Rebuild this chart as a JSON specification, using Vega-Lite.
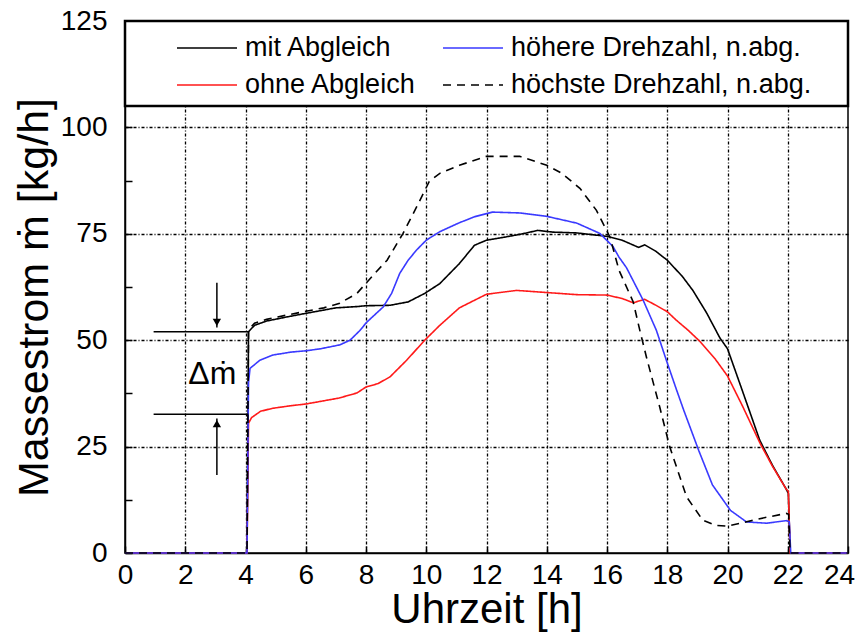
{
  "$schema": "https://vega.github.io/schema/vega-lite/v6.json",
  "width": 723,
  "height": 532,
  "autosize": "none",
  "padding": {"left": 125, "top": 21, "right": 8, "bottom": 83},
  "background": "white",
  "config": {
    "font": "Liberation Sans",
    "view": {"stroke": "black", "strokeWidth": 1.5},
    "axis": {
      "domainColor": "black",
      "domainWidth": 1.5,
      "tickColor": "black",
      "tickWidth": 1.5,
      "labelColor": "black",
      "labelFont": "Liberation Sans",
      "labelFontSize": 28,
      "titleFont": "Liberation Sans",
      "titleFontSize": 42,
      "titleFontWeight": "normal",
      "titleColor": "black",
      "gridColor": "black",
      "gridWidth": 1.3,
      "gridDash": [3, 2, 1, 2]
    }
  },
  "layer": [
    {
      "data": {"name": "series", "values": [
        {"s": "mit Abgleich", "t": 0, "m": 0},
        {"s": "mit Abgleich", "t": 4.05, "m": 0},
        {"s": "mit Abgleich", "t": 4.1, "m": 52},
        {"s": "mit Abgleich", "t": 4.3, "m": 53.5},
        {"s": "mit Abgleich", "t": 4.7, "m": 54.5},
        {"s": "mit Abgleich", "t": 5.4, "m": 55.5},
        {"s": "mit Abgleich", "t": 6, "m": 56.3},
        {"s": "mit Abgleich", "t": 7, "m": 57.6},
        {"s": "mit Abgleich", "t": 7.7, "m": 57.9},
        {"s": "mit Abgleich", "t": 8, "m": 58.1},
        {"s": "mit Abgleich", "t": 8.8, "m": 58.2},
        {"s": "mit Abgleich", "t": 9.4, "m": 59},
        {"s": "mit Abgleich", "t": 9.95, "m": 61},
        {"s": "mit Abgleich", "t": 10.45, "m": 63.3},
        {"s": "mit Abgleich", "t": 11.1, "m": 68},
        {"s": "mit Abgleich", "t": 11.6, "m": 72.3},
        {"s": "mit Abgleich", "t": 12, "m": 73.5},
        {"s": "mit Abgleich", "t": 12.67, "m": 74.3},
        {"s": "mit Abgleich", "t": 13.2, "m": 75},
        {"s": "mit Abgleich", "t": 13.7, "m": 75.8},
        {"s": "mit Abgleich", "t": 14.2, "m": 75.4},
        {"s": "mit Abgleich", "t": 15, "m": 75.2},
        {"s": "mit Abgleich", "t": 16, "m": 74.4},
        {"s": "mit Abgleich", "t": 16.5, "m": 73.5},
        {"s": "mit Abgleich", "t": 17.05, "m": 71.8},
        {"s": "mit Abgleich", "t": 17.25, "m": 72.4},
        {"s": "mit Abgleich", "t": 17.6, "m": 71},
        {"s": "mit Abgleich", "t": 18, "m": 68.8},
        {"s": "mit Abgleich", "t": 18.5, "m": 65},
        {"s": "mit Abgleich", "t": 18.85, "m": 61.7},
        {"s": "mit Abgleich", "t": 19.3, "m": 56.5},
        {"s": "mit Abgleich", "t": 19.75, "m": 50.5},
        {"s": "mit Abgleich", "t": 20, "m": 48},
        {"s": "mit Abgleich", "t": 20.5, "m": 38},
        {"s": "mit Abgleich", "t": 21.07, "m": 26.5},
        {"s": "mit Abgleich", "t": 21.5, "m": 20.5},
        {"s": "mit Abgleich", "t": 21.95, "m": 15},
        {"s": "mit Abgleich", "t": 22.02, "m": 14},
        {"s": "mit Abgleich", "t": 22.08, "m": 0},
        {"s": "mit Abgleich", "t": 24, "m": 0},
        {"s": "ohne Abgleich", "t": 0, "m": 0},
        {"s": "ohne Abgleich", "t": 4.05, "m": 0},
        {"s": "ohne Abgleich", "t": 4.1, "m": 30.5},
        {"s": "ohne Abgleich", "t": 4.2, "m": 31.8},
        {"s": "ohne Abgleich", "t": 4.5, "m": 33.3},
        {"s": "ohne Abgleich", "t": 4.9, "m": 34},
        {"s": "ohne Abgleich", "t": 5.5, "m": 34.6},
        {"s": "ohne Abgleich", "t": 6, "m": 35},
        {"s": "ohne Abgleich", "t": 7.1, "m": 36.4},
        {"s": "ohne Abgleich", "t": 7.7, "m": 37.6},
        {"s": "ohne Abgleich", "t": 8, "m": 39},
        {"s": "ohne Abgleich", "t": 8.4, "m": 39.8},
        {"s": "ohne Abgleich", "t": 8.8, "m": 41.4},
        {"s": "ohne Abgleich", "t": 9.35, "m": 45.3},
        {"s": "ohne Abgleich", "t": 9.95, "m": 50},
        {"s": "ohne Abgleich", "t": 10.45, "m": 53.5},
        {"s": "ohne Abgleich", "t": 11.1, "m": 57.6},
        {"s": "ohne Abgleich", "t": 12, "m": 60.8},
        {"s": "ohne Abgleich", "t": 13, "m": 61.7},
        {"s": "ohne Abgleich", "t": 14, "m": 61.2},
        {"s": "ohne Abgleich", "t": 15, "m": 60.7},
        {"s": "ohne Abgleich", "t": 16, "m": 60.6},
        {"s": "ohne Abgleich", "t": 16.5, "m": 59.8},
        {"s": "ohne Abgleich", "t": 16.87, "m": 58.8},
        {"s": "ohne Abgleich", "t": 17.25, "m": 59.6},
        {"s": "ohne Abgleich", "t": 17.6, "m": 58.3},
        {"s": "ohne Abgleich", "t": 18, "m": 56.7},
        {"s": "ohne Abgleich", "t": 18.3, "m": 54.7},
        {"s": "ohne Abgleich", "t": 18.7, "m": 52.3},
        {"s": "ohne Abgleich", "t": 19.1, "m": 49.6},
        {"s": "ohne Abgleich", "t": 19.6, "m": 45.5},
        {"s": "ohne Abgleich", "t": 20, "m": 41.6},
        {"s": "ohne Abgleich", "t": 20.5, "m": 34.5},
        {"s": "ohne Abgleich", "t": 21.1, "m": 25.5},
        {"s": "ohne Abgleich", "t": 21.5, "m": 20.3},
        {"s": "ohne Abgleich", "t": 21.95, "m": 15},
        {"s": "ohne Abgleich", "t": 22.02, "m": 14.5},
        {"s": "ohne Abgleich", "t": 22.08, "m": 0},
        {"s": "ohne Abgleich", "t": 24, "m": 0},
        {"s": "höhere Drehzahl, n.abg.", "t": 0, "m": 0},
        {"s": "höhere Drehzahl, n.abg.", "t": 4.05, "m": 0},
        {"s": "höhere Drehzahl, n.abg.", "t": 4.1, "m": 40},
        {"s": "höhere Drehzahl, n.abg.", "t": 4.15, "m": 43.4},
        {"s": "höhere Drehzahl, n.abg.", "t": 4.48, "m": 45.3},
        {"s": "höhere Drehzahl, n.abg.", "t": 4.9, "m": 46.5},
        {"s": "höhere Drehzahl, n.abg.", "t": 5.5, "m": 47.2},
        {"s": "höhere Drehzahl, n.abg.", "t": 6, "m": 47.5},
        {"s": "höhere Drehzahl, n.abg.", "t": 6.5, "m": 48},
        {"s": "höhere Drehzahl, n.abg.", "t": 7.13, "m": 48.9},
        {"s": "höhere Drehzahl, n.abg.", "t": 7.47, "m": 50},
        {"s": "höhere Drehzahl, n.abg.", "t": 7.8, "m": 52.3},
        {"s": "höhere Drehzahl, n.abg.", "t": 8.02, "m": 54.2},
        {"s": "höhere Drehzahl, n.abg.", "t": 8.57, "m": 57.8},
        {"s": "höhere Drehzahl, n.abg.", "t": 8.85, "m": 61},
        {"s": "höhere Drehzahl, n.abg.", "t": 9.12, "m": 65.7},
        {"s": "höhere Drehzahl, n.abg.", "t": 9.4, "m": 68.8},
        {"s": "höhere Drehzahl, n.abg.", "t": 9.68, "m": 71.2},
        {"s": "höhere Drehzahl, n.abg.", "t": 10, "m": 73.5},
        {"s": "höhere Drehzahl, n.abg.", "t": 10.45, "m": 75.5},
        {"s": "höhere Drehzahl, n.abg.", "t": 11.1, "m": 77.6},
        {"s": "höhere Drehzahl, n.abg.", "t": 11.6, "m": 79},
        {"s": "höhere Drehzahl, n.abg.", "t": 12.2, "m": 80.1},
        {"s": "höhere Drehzahl, n.abg.", "t": 13.1, "m": 79.9},
        {"s": "höhere Drehzahl, n.abg.", "t": 14, "m": 79.1},
        {"s": "höhere Drehzahl, n.abg.", "t": 15, "m": 77.5},
        {"s": "höhere Drehzahl, n.abg.", "t": 15.76, "m": 75.1},
        {"s": "höhere Drehzahl, n.abg.", "t": 16.2, "m": 72},
        {"s": "höhere Drehzahl, n.abg.", "t": 16.4, "m": 69.5},
        {"s": "höhere Drehzahl, n.abg.", "t": 16.65, "m": 67},
        {"s": "höhere Drehzahl, n.abg.", "t": 17.2, "m": 59.4},
        {"s": "höhere Drehzahl, n.abg.", "t": 17.64, "m": 52.3},
        {"s": "höhere Drehzahl, n.abg.", "t": 17.97, "m": 45.3},
        {"s": "höhere Drehzahl, n.abg.", "t": 18.3, "m": 38.5},
        {"s": "höhere Drehzahl, n.abg.", "t": 18.55, "m": 33.5},
        {"s": "höhere Drehzahl, n.abg.", "t": 19.05, "m": 24},
        {"s": "höhere Drehzahl, n.abg.", "t": 19.5, "m": 16},
        {"s": "höhere Drehzahl, n.abg.", "t": 20.1, "m": 10},
        {"s": "höhere Drehzahl, n.abg.", "t": 20.63, "m": 7.3},
        {"s": "höhere Drehzahl, n.abg.", "t": 21.29, "m": 7},
        {"s": "höhere Drehzahl, n.abg.", "t": 21.95, "m": 7.6},
        {"s": "höhere Drehzahl, n.abg.", "t": 22.05, "m": 7.4},
        {"s": "höhere Drehzahl, n.abg.", "t": 22.1, "m": 0},
        {"s": "höhere Drehzahl, n.abg.", "t": 24, "m": 0},
        {"s": "höchste Drehzahl, n.abg.", "t": 0, "m": 0},
        {"s": "höchste Drehzahl, n.abg.", "t": 4.05, "m": 0},
        {"s": "höchste Drehzahl, n.abg.", "t": 4.1, "m": 52.5},
        {"s": "höchste Drehzahl, n.abg.", "t": 4.3, "m": 54},
        {"s": "höchste Drehzahl, n.abg.", "t": 4.7, "m": 54.9},
        {"s": "höchste Drehzahl, n.abg.", "t": 5.37, "m": 55.9},
        {"s": "höchste Drehzahl, n.abg.", "t": 6, "m": 56.8},
        {"s": "höchste Drehzahl, n.abg.", "t": 6.6, "m": 57.6},
        {"s": "höchste Drehzahl, n.abg.", "t": 7.13, "m": 58.7},
        {"s": "höchste Drehzahl, n.abg.", "t": 7.7, "m": 61},
        {"s": "höchste Drehzahl, n.abg.", "t": 8.24, "m": 65.3},
        {"s": "höchste Drehzahl, n.abg.", "t": 8.7, "m": 68.8},
        {"s": "höchste Drehzahl, n.abg.", "t": 9.23, "m": 75.1},
        {"s": "höchste Drehzahl, n.abg.", "t": 9.68, "m": 81.3},
        {"s": "höchste Drehzahl, n.abg.", "t": 10.1, "m": 87.3},
        {"s": "höchste Drehzahl, n.abg.", "t": 10.45, "m": 89.2},
        {"s": "höchste Drehzahl, n.abg.", "t": 11.1, "m": 91.1},
        {"s": "höchste Drehzahl, n.abg.", "t": 12, "m": 93.2},
        {"s": "höchste Drehzahl, n.abg.", "t": 13.1, "m": 93.2},
        {"s": "höchste Drehzahl, n.abg.", "t": 14, "m": 91.1},
        {"s": "höchste Drehzahl, n.abg.", "t": 14.5, "m": 89.2},
        {"s": "höchste Drehzahl, n.abg.", "t": 15.1, "m": 85.7},
        {"s": "höchste Drehzahl, n.abg.", "t": 15.65, "m": 80.5},
        {"s": "höchste Drehzahl, n.abg.", "t": 16.1, "m": 74.2},
        {"s": "höchste Drehzahl, n.abg.", "t": 16.4, "m": 66.4},
        {"s": "höchste Drehzahl, n.abg.", "t": 16.87, "m": 59},
        {"s": "höchste Drehzahl, n.abg.", "t": 17.09, "m": 52.3},
        {"s": "höchste Drehzahl, n.abg.", "t": 17.31, "m": 46},
        {"s": "höchste Drehzahl, n.abg.", "t": 17.75, "m": 34.3},
        {"s": "höchste Drehzahl, n.abg.", "t": 18.08, "m": 25},
        {"s": "höchste Drehzahl, n.abg.", "t": 18.64, "m": 13.2},
        {"s": "höchste Drehzahl, n.abg.", "t": 19.18, "m": 7.7},
        {"s": "höchste Drehzahl, n.abg.", "t": 19.6, "m": 6.5},
        {"s": "höchste Drehzahl, n.abg.", "t": 20, "m": 6.3},
        {"s": "höchste Drehzahl, n.abg.", "t": 20.6, "m": 7.3},
        {"s": "höchste Drehzahl, n.abg.", "t": 21.3, "m": 8.4},
        {"s": "höchste Drehzahl, n.abg.", "t": 21.95, "m": 9.3},
        {"s": "höchste Drehzahl, n.abg.", "t": 22.03, "m": 9.1},
        {"s": "höchste Drehzahl, n.abg.", "t": 22.08, "m": 0},
        {"s": "höchste Drehzahl, n.abg.", "t": 24, "m": 0}
      ]},
      "mark": {"type": "line", "strokeWidth": 1.6},
      "encoding": {
        "x": {
          "field": "t", "type": "quantitative",
          "scale": {"domain": [0, 24], "nice": false, "zero": false},
          "title": "Uhrzeit [h]",
          "axis": {
            "values": [0,1,2,3,4,5,6,7,8,9,10,11,12,13,14,15,16,17,18,19,20,21,22,23,24],
            "labelExpr": "datum.value % 2 === 0 ? format(datum.value, 'd') : ''",
            "labelOffset": {"condition": {"test": "datum.value === 24", "value": -9}, "value": 0},
            "grid": true,
            "gridOpacity": {"condition": {"test": "datum.value % 2 === 0 && datum.value > 0 && datum.value < 24", "value": 1}, "value": 0},
            "tickSize": -7,
            "labelPadding": 15,
            "labelFlush": false,
            "labelOverlap": false,
            "titlePadding": 0
          }
        },
        "y": {
          "field": "m", "type": "quantitative",
          "scale": {"domain": [0, 125], "nice": false},
          "title": "Massestrom ṁ [kg/h]",
          "axis": {
            "values": [0,12.5,25,37.5,50,62.5,75,87.5,100,112.5,125],
            "labelExpr": "datum.value % 25 === 0 ? format(datum.value, 'd') : ''",
            "grid": true,
            "gridOpacity": {"condition": {"test": "datum.value % 25 === 0 && datum.value > 0 && datum.value < 125", "value": 1}, "value": 0},
            "tickSize": -7,
            "labelPadding": 25,
            "labelFlush": false,
            "labelOverlap": false,
            "titlePadding": 4,
            "titleFontSize": 43,
            "titleY": 276
          }
        },
        "color": {
          "field": "s", "type": "nominal",
          "scale": {
            "domain": ["mit Abgleich", "ohne Abgleich", "höhere Drehzahl, n.abg.", "höchste Drehzahl, n.abg."],
            "range": ["#000000", "#ff1a1a", "#3a3aff", "#000000"]
          },
          "legend": {
            "title": null,
            "orient": "none",
            "legendX": 66,
            "legendY": 11,
            "columns": 2,
            "columnPadding": 22,
            "rowPadding": 8,
            "symbolType": "M-2,0H2",
            "symbolSize": 900,
            "symbolStrokeWidth": 1.6,
            "labelFont": "Liberation Sans",
            "labelFontSize": 27,
            "labelColor": "black",
            "labelOffset": 22,
            "labelLimit": 500
          }
        },
        "strokeDash": {
          "field": "s", "type": "nominal",
          "scale": {
            "domain": ["mit Abgleich", "ohne Abgleich", "höhere Drehzahl, n.abg.", "höchste Drehzahl, n.abg."],
            "range": [[1, 0], [1, 0], [1, 0], [8, 6]]
          }
        },
        "order": {"field": "t", "type": "quantitative"}
      }
    },
    {
      "data": {"values": [{"x": 0.95, "x2": 4.1, "y": 52}, {"x": 0.95, "x2": 4.1, "y": 32.6}]},
      "mark": {"type": "rule", "color": "black", "strokeWidth": 1.5},
      "encoding": {
        "x": {"field": "x", "type": "quantitative"},
        "x2": {"field": "x2"},
        "y": {"field": "y", "type": "quantitative"}
      }
    },
    {
      "data": {"values": [{"x": 3.05, "y": 63.5, "y2": 53}, {"x": 3.05, "y": 18.3, "y2": 31.6}]},
      "mark": {"type": "rule", "color": "black", "strokeWidth": 1.5},
      "encoding": {
        "x": {"field": "x", "type": "quantitative"},
        "y": {"field": "y", "type": "quantitative"},
        "y2": {"field": "y2"}
      }
    },
    {
      "data": {"values": [{"x": 3.05, "y": 54.2, "dir": "down"}, {"x": 3.05, "y": 30.4, "dir": "up"}]},
      "mark": {"type": "point", "filled": true, "color": "black", "size": 70, "opacity": 1},
      "encoding": {
        "x": {"field": "x", "type": "quantitative"},
        "y": {"field": "y", "type": "quantitative"},
        "shape": {"field": "dir", "type": "nominal", "scale": {"domain": ["down", "up"], "range": ["triangle-down", "triangle-up"]}, "legend": null}
      }
    },
    {
      "data": {"values": [{"x": 2.9, "y": 42, "label": "Δṁ"}]},
      "mark": {"type": "text", "font": "Liberation Sans", "fontSize": 32, "color": "black", "align": "center", "baseline": "middle"},
      "encoding": {
        "x": {"field": "x", "type": "quantitative"},
        "y": {"field": "y", "type": "quantitative"},
        "text": {"field": "label"}
      }
    },
    {
      "data": {"values": [{}]},
      "mark": {"type": "rect", "fill": "white", "stroke": "black", "strokeWidth": 2.5},
      "encoding": {
        "x": {"datum": 0, "type": "quantitative"},
        "x2": {"datum": 24},
        "y": {"datum": 105, "type": "quantitative"},
        "y2": {"datum": 125}
      }
    }
  ]
}
